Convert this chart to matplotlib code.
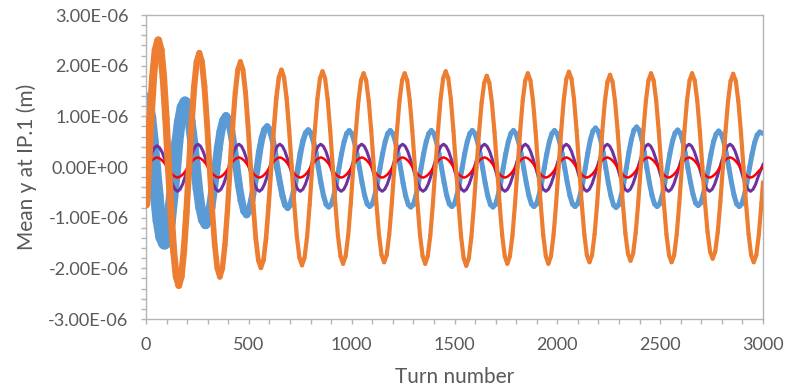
import numpy as np
import matplotlib
matplotlib.use('Agg')
import matplotlib.pyplot as plt
from matplotlib.collections import LineCollection
from matplotlib.ticker import MultipleLocator, FuncFormatter

plt.rcParams['font.family'] = ['Lato', 'DejaVu Sans']

# mean y at IP.1 in micrometres at 1/16 of an oscillation
# orange: turn 0, then from turn 9.6 every 12.48 turns, then turn 3000
orange_um = [
    -0.74,
    0.00, 0.96, 1.78, 2.31, 2.50, 2.31, 1.77, 0.96, 0.00, -0.90, -1.66, -2.16, -2.34, -2.16, -1.65, -0.89,
    -0.02, 0.86, 1.59, 2.08, 2.25, 2.08, 1.59, 0.86, 0.00, -0.83, -1.53, -2.00, -2.17, -2.00, -1.53, -0.83,
    0.00, 0.80, 1.47, 1.92, 2.08, 1.92, 1.47, 0.80, 0.00, -0.76, -1.41, -1.84, -1.99, -1.84, -1.41, -0.76,
    0.00, 0.73, 1.36, 1.77, 1.92, 1.77, 1.36, 0.73, 0.00, -0.74, -1.37, -1.79, -1.94, -1.79, -1.37, -0.74,
    0.00, 0.72, 1.34, 1.75, 1.89, 1.75, 1.34, 0.72, 0.00, -0.73, -1.35, -1.76, -1.91, -1.76, -1.35, -0.73,
    0.00, 0.71, 1.31, 1.71, 1.85, 1.71, 1.31, 0.71, 0.00, -0.72, -1.33, -1.74, -1.88, -1.74, -1.33, -0.72,
    0.00, 0.71, 1.31, 1.71, 1.85, 1.71, 1.31, 0.71, 0.00, -0.73, -1.35, -1.76, -1.91, -1.76, -1.35, -0.73,
    0.00, 0.72, 1.34, 1.75, 1.89, 1.75, 1.34, 0.72, 0.00, -0.75, -1.38, -1.80, -1.95, -1.80, -1.38, -0.75,
    0.00, 0.69, 1.27, 1.66, 1.80, 1.66, 1.27, 0.69, 0.00, -0.73, -1.35, -1.76, -1.91, -1.76, -1.35, -0.73,
    0.00, 0.71, 1.31, 1.71, 1.85, 1.71, 1.31, 0.71, 0.00, -0.73, -1.35, -1.76, -1.91, -1.76, -1.35, -0.73,
    0.00, 0.72, 1.33, 1.74, 1.88, 1.74, 1.33, 0.72, 0.00, -0.72, -1.33, -1.74, -1.88, -1.74, -1.33, -0.72,
    0.00, 0.70, 1.29, 1.68, 1.82, 1.68, 1.29, 0.70, 0.00, -0.71, -1.31, -1.71, -1.85, -1.71, -1.31, -0.71,
    0.00, 0.71, 1.31, 1.71, 1.85, 1.71, 1.31, 0.71, 0.00, -0.72, -1.33, -1.74, -1.88, -1.74, -1.33, -0.72,
    0.00, 0.71, 1.31, 1.71, 1.85, 1.71, 1.31, 0.71, 0.00, -0.69, -1.28, -1.67, -1.81, -1.67, -1.28, -0.69,
    0.00, 0.70, 1.30, 1.70, 1.84, 1.70, 1.30, 0.70, 0.00, -0.72, -1.33, -1.74, -1.88, -1.74, -1.33, -0.72,
    -0.30,
]

# blue: turn 0, then from turn 2.6 every 12.475 turns, then turn 3000
blue_um = [
    1.33,
    1.25, 0.97, 0.50,
    -0.05, -0.57, -1.06, -1.38, -1.50, -1.38, -1.06, -0.57, -0.11, 0.49, 0.90, 1.18, 1.28, 1.18, 0.90, 0.49,
    0.06, -0.43, -0.80, -1.04, -1.13, -1.04, -0.80, -0.43, -0.06, 0.38, 0.71, 0.92, 1.00, 0.92, 0.71, 0.38,
    0.02, -0.36, -0.66, -0.87, -0.94, -0.87, -0.66, -0.36, -0.06, 0.30, 0.57, 0.74, 0.80, 0.74, 0.57, 0.30,
    -0.03, -0.31, -0.57, -0.75, -0.81, -0.75, -0.57, -0.31, -0.03, 0.28, 0.52, 0.67, 0.73, 0.67, 0.52, 0.28,
    -0.02, -0.32, -0.57, -0.74, -0.79, -0.74, -0.57, -0.32, -0.02, 0.26, 0.50, 0.66, 0.72, 0.66, 0.50, 0.26,
    -0.02, -0.31, -0.56, -0.73, -0.78, -0.73, -0.56, -0.31, -0.02, 0.26, 0.50, 0.66, 0.72, 0.66, 0.50, 0.26,
    -0.02, -0.32, -0.57, -0.74, -0.79, -0.74, -0.57, -0.32, -0.02, 0.26, 0.50, 0.66, 0.72, 0.66, 0.50, 0.26,
    -0.02, -0.31, -0.56, -0.73, -0.78, -0.73, -0.56, -0.31, -0.02, 0.26, 0.50, 0.66, 0.72, 0.66, 0.50, 0.26,
    -0.02, -0.32, -0.57, -0.74, -0.79, -0.74, -0.57, -0.32, -0.02, 0.26, 0.50, 0.66, 0.72, 0.66, 0.50, 0.26,
    -0.02, -0.31, -0.56, -0.73, -0.78, -0.73, -0.56, -0.31, -0.02, 0.26, 0.50, 0.66, 0.72, 0.66, 0.50, 0.26,
    -0.02, -0.31, -0.56, -0.73, -0.78, -0.73, -0.56, -0.31, -0.02, 0.28, 0.54, 0.71, 0.77, 0.71, 0.54, 0.28,
    -0.02, -0.32, -0.57, -0.75, -0.80, -0.75, -0.57, -0.32, -0.02, 0.29, 0.55, 0.73, 0.79, 0.73, 0.55, 0.29,
    -0.02, -0.31, -0.56, -0.73, -0.78, -0.73, -0.56, -0.31, -0.02, 0.27, 0.51, 0.67, 0.73, 0.67, 0.51, 0.27,
    -0.02, -0.30, -0.54, -0.71, -0.76, -0.71, -0.54, -0.30, -0.02, 0.26, 0.50, 0.65, 0.71, 0.65, 0.50, 0.26,
    -0.02, -0.31, -0.56, -0.73, -0.78, -0.73, -0.56, -0.31, -0.02, 0.25, 0.48, 0.63, 0.69,
    0.66,
]

# purple and red: turn 0, then from turn 4 every 12.4375 turns, then turn 3000
purple_um = [
    -0.03,
    -0.01, 0.15, 0.29, 0.38, 0.42, 0.38, 0.29, 0.15, -0.01, -0.19, -0.34, -0.44, -0.48, -0.44, -0.34, -0.19,
    -0.01, 0.16, 0.31, 0.41, 0.45, 0.41, 0.31, 0.16, -0.01, -0.19, -0.34, -0.44, -0.48, -0.44, -0.34, -0.19,
    -0.01, 0.16, 0.31, 0.41, 0.45, 0.41, 0.31, 0.16, -0.01, -0.19, -0.34, -0.44, -0.48, -0.44, -0.34, -0.19,
    -0.01, 0.16, 0.31, 0.41, 0.45, 0.41, 0.31, 0.16, -0.01, -0.19, -0.34, -0.44, -0.48, -0.44, -0.34, -0.19,
    -0.01, 0.16, 0.31, 0.41, 0.45, 0.41, 0.31, 0.16, -0.01, -0.19, -0.34, -0.44, -0.48, -0.44, -0.34, -0.19,
    -0.01, 0.16, 0.31, 0.41, 0.45, 0.41, 0.31, 0.16, -0.01, -0.19, -0.34, -0.44, -0.48, -0.44, -0.34, -0.19,
    -0.01, 0.16, 0.31, 0.41, 0.45, 0.41, 0.31, 0.16, -0.01, -0.19, -0.34, -0.44, -0.48, -0.44, -0.34, -0.19,
    -0.01, 0.16, 0.31, 0.41, 0.45, 0.41, 0.31, 0.16, -0.01, -0.19, -0.34, -0.44, -0.48, -0.44, -0.34, -0.19,
    -0.01, 0.16, 0.31, 0.41, 0.45, 0.41, 0.31, 0.16, -0.01, -0.19, -0.34, -0.44, -0.48, -0.44, -0.34, -0.19,
    -0.01, 0.16, 0.31, 0.41, 0.45, 0.41, 0.31, 0.16, -0.01, -0.19, -0.34, -0.44, -0.48, -0.44, -0.34, -0.19,
    -0.01, 0.16, 0.31, 0.41, 0.45, 0.41, 0.31, 0.16, -0.01, -0.19, -0.34, -0.44, -0.48, -0.44, -0.34, -0.19,
    -0.01, 0.16, 0.31, 0.41, 0.45, 0.41, 0.31, 0.16, -0.01, -0.19, -0.34, -0.44, -0.48, -0.44, -0.34, -0.19,
    -0.01, 0.16, 0.31, 0.41, 0.45, 0.41, 0.31, 0.16, -0.01, -0.19, -0.34, -0.44, -0.48, -0.44, -0.34, -0.19,
    -0.01, 0.16, 0.31, 0.41, 0.45, 0.41, 0.31, 0.16, -0.01, -0.19, -0.34, -0.44, -0.48, -0.44, -0.34, -0.19,
    -0.01, 0.16, 0.31, 0.41, 0.45, 0.41, 0.31, 0.16, -0.01, -0.19, -0.34, -0.44, -0.48, -0.44, -0.34, -0.19,
    0.05,
]

red_um = [
    -0.02,
    -0.01, 0.07, 0.13, 0.17, 0.19, 0.17, 0.13, 0.07, -0.01, -0.09, -0.15, -0.19, -0.21, -0.19, -0.15, -0.09,
    -0.01, 0.07, 0.13, 0.17, 0.19, 0.17, 0.13, 0.07, -0.01, -0.09, -0.15, -0.19, -0.21, -0.19, -0.15, -0.09,
    -0.01, 0.07, 0.13, 0.17, 0.19, 0.17, 0.13, 0.07, -0.01, -0.09, -0.15, -0.19, -0.21, -0.19, -0.15, -0.09,
    -0.01, 0.07, 0.13, 0.17, 0.19, 0.17, 0.13, 0.07, -0.01, -0.09, -0.15, -0.19, -0.21, -0.19, -0.15, -0.09,
    -0.01, 0.07, 0.13, 0.17, 0.19, 0.17, 0.13, 0.07, -0.01, -0.09, -0.15, -0.19, -0.21, -0.19, -0.15, -0.09,
    -0.01, 0.07, 0.13, 0.17, 0.19, 0.17, 0.13, 0.07, -0.01, -0.09, -0.15, -0.19, -0.21, -0.19, -0.15, -0.09,
    -0.01, 0.07, 0.13, 0.17, 0.19, 0.17, 0.13, 0.07, -0.01, -0.09, -0.15, -0.19, -0.21, -0.19, -0.15, -0.09,
    -0.01, 0.07, 0.13, 0.17, 0.19, 0.17, 0.13, 0.07, -0.01, -0.09, -0.15, -0.19, -0.21, -0.19, -0.15, -0.09,
    -0.01, 0.07, 0.13, 0.17, 0.19, 0.17, 0.13, 0.07, -0.01, -0.09, -0.15, -0.19, -0.21, -0.19, -0.15, -0.09,
    -0.01, 0.07, 0.13, 0.17, 0.19, 0.17, 0.13, 0.07, -0.01, -0.09, -0.15, -0.19, -0.21, -0.19, -0.15, -0.09,
    -0.01, 0.07, 0.13, 0.17, 0.19, 0.17, 0.13, 0.07, -0.01, -0.09, -0.15, -0.19, -0.21, -0.19, -0.15, -0.09,
    -0.01, 0.07, 0.13, 0.17, 0.19, 0.17, 0.13, 0.07, -0.01, -0.09, -0.15, -0.19, -0.21, -0.19, -0.15, -0.09,
    -0.01, 0.07, 0.13, 0.17, 0.19, 0.17, 0.13, 0.07, -0.01, -0.09, -0.15, -0.19, -0.21, -0.19, -0.15, -0.09,
    -0.01, 0.07, 0.13, 0.17, 0.19, 0.17, 0.13, 0.07, -0.01, -0.09, -0.15, -0.19, -0.21, -0.19, -0.15, -0.09,
    -0.01, 0.07, 0.13, 0.17, 0.19, 0.17, 0.13, 0.07, -0.01, -0.09, -0.15, -0.19, -0.21, -0.19, -0.15, -0.09,
    0.00,
]

orange_turns = np.r_[0, 9.6 + 12.48 * np.arange(240), 3000]
blue_turns = np.r_[0, 2.6 + 12.475 * np.arange(240), 3000]
pr_turns = np.r_[0, 4 + 12.4375 * np.arange(240), 3000]

text_grey = '#595959'
axis_grey = '#b4b4b4'


def variable_line(ax, x, y, widths, color, z):
    # turn-by-turn scatter is wider early on, drawn as a thicker stroke
    pts = np.column_stack([x, y]).reshape(-1, 1, 2)
    segs = np.concatenate([pts[:-1], pts[1:]], axis=1)
    lw = 0.5 * (widths[:-1] + widths[1:])
    lc = LineCollection(segs, linewidths=lw, colors=color,
                        capstyle='round', joinstyle='round', zorder=z)
    ax.add_collection(lc)


fig = plt.figure(figsize=(7.9, 3.91), dpi=100)
ax = fig.add_axes([146 / 790, 1 - 319 / 391, 617 / 790, 304 / 391])

blue_lw = np.interp(blue_turns, [0, 200, 400, 600, 900], [10.5, 8.0, 6.0, 4.6, 3.6])
orange_lw = np.interp(orange_turns, [0, 200, 450, 750], [6.0, 4.6, 3.6, 3.0])

variable_line(ax, blue_turns, np.array(blue_um) * 1e-6, blue_lw, '#5b9bd5', 2)
ax.plot(pr_turns, np.array(purple_um) * 1e-6, color='#7030a0', lw=2.2,
        solid_joinstyle='round', zorder=3)
ax.plot(pr_turns, np.array(red_um) * 1e-6, color='#ff0000', lw=1.8,
        solid_joinstyle='round', zorder=4)
variable_line(ax, orange_turns, np.array(orange_um) * 1e-6, orange_lw, '#ed7d31', 5)

ax.set_xlim(0, 3000)
ax.set_ylim(-3e-6, 3e-6)
ax.xaxis.set_major_locator(MultipleLocator(500))
ax.xaxis.set_minor_locator(MultipleLocator(100))
ax.yaxis.set_major_locator(MultipleLocator(1e-6))
ax.yaxis.set_minor_locator(MultipleLocator(2e-7))


def sci_fmt(v, pos):
    if abs(v) < 1e-12:
        v = 0.0
    return f'{v:.2E}'


ax.yaxis.set_major_formatter(FuncFormatter(sci_fmt))

for s in ax.spines.values():
    s.set_color(axis_grey)
    s.set_linewidth(1.0)

ax.tick_params(which='both', direction='out', color=axis_grey, length=3.6, width=1.0)
ax.tick_params(which='major', labelsize=13, labelcolor=text_grey, pad=9)

ax.set_xlabel('Turn number', fontsize=15, color=text_grey)
ax.set_ylabel('Mean y at IP.1 (m)', fontsize=15, color=text_grey)
ax.xaxis.set_label_coords(0.5, (319 - 377) / 304)
ax.yaxis.set_label_coords((27 - 146) / 617, 0.5)
ax.xaxis.label.set_va('center')
ax.yaxis.label.set_va('center')

fig.savefig('out.png', dpi=100)
